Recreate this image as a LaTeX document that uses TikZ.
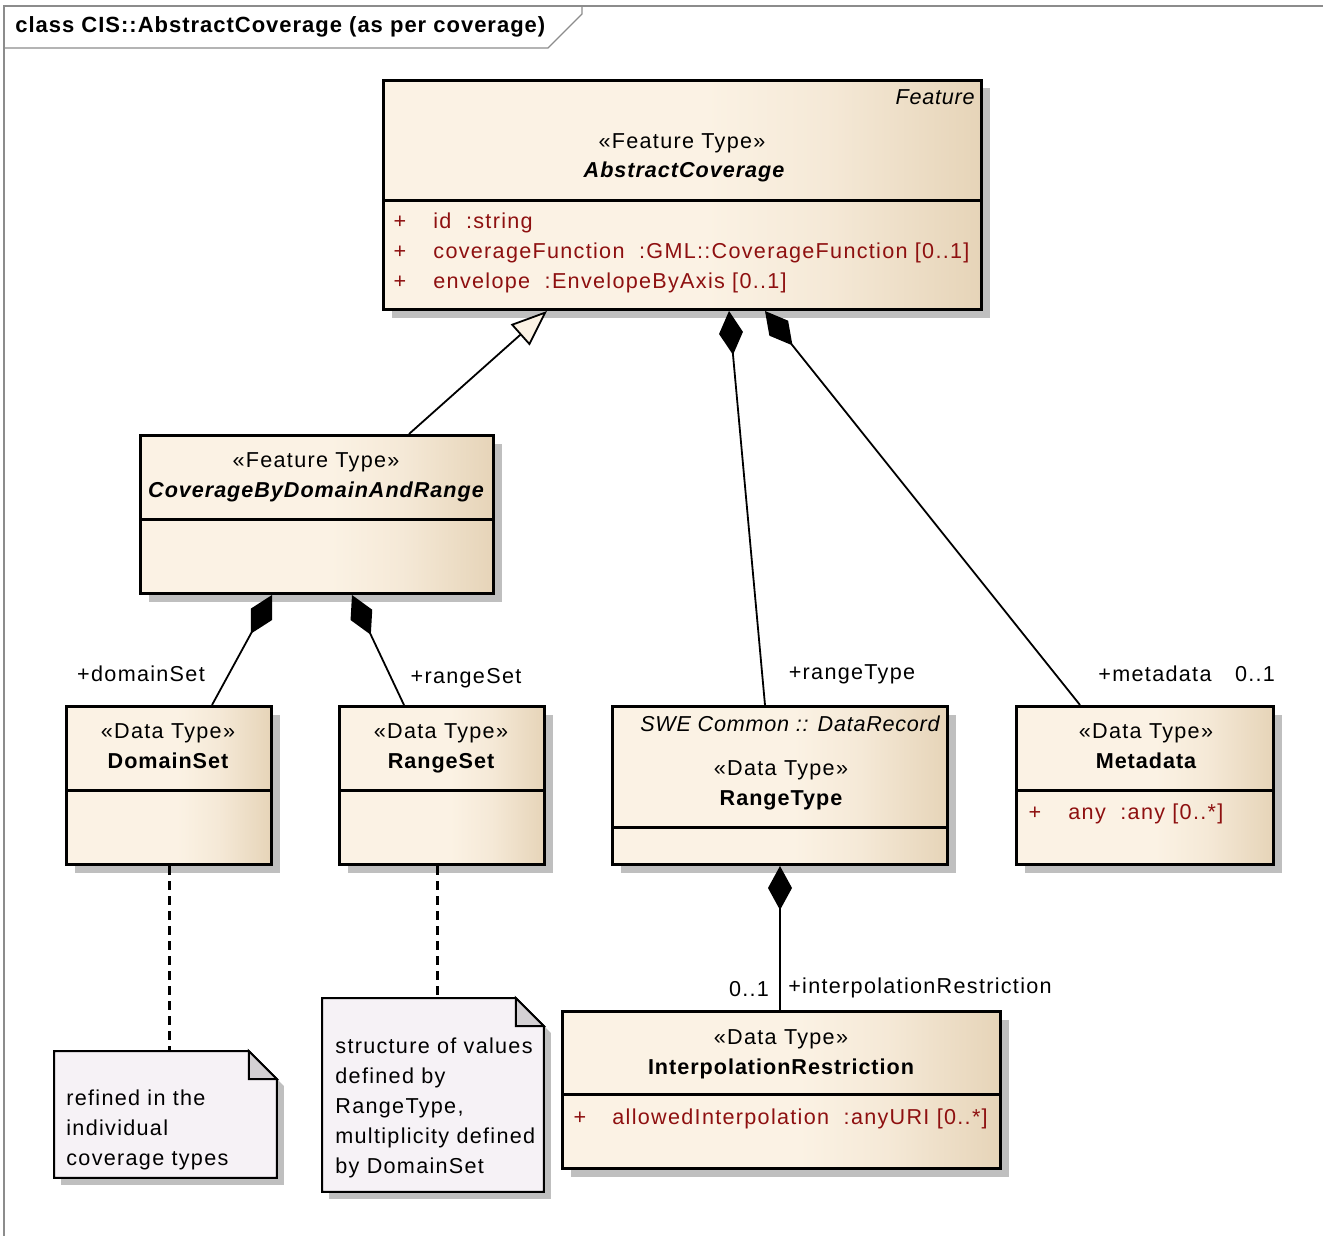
\documentclass[tikz,border=0pt]{standalone}
\usepackage{fontspec}
\setmainfont{Liberation Sans}[LetterSpace=6,ItalicFeatures={LetterSpace=3.5},BoldFeatures={LetterSpace=4.5},BoldItalicFeatures={LetterSpace=4.5}]
\usetikzlibrary{arrows.meta,shadows,calc}
\definecolor{clsL}{HTML}{FBF2E4}
\definecolor{clsM}{HTML}{F5E9D7}
\definecolor{clsR}{HTML}{E6D4B8}
\definecolor{noteFill}{HTML}{F6F2F6}
\definecolor{foldFill}{HTML}{D3D0D3}
\definecolor{attrRed}{HTML}{8E1010}
\definecolor{shadowGray}{HTML}{BFBFBF}
\definecolor{frameGray}{HTML}{8C8C8C}
\pgfdeclarehorizontalshading{clsshade}{100bp}{color(0bp)=(clsL); color(25bp)=(clsL); color(52bp)=(clsL); color(62bp)=(clsM); color(75bp)=(clsR); color(100bp)=(clsR)}
\newcommand{\umlsize}{\fontsize{10.8pt}{15pt}\selectfont}
\tikzset{
  every node/.style={font=\umlsize,inner sep=0pt},
  clsbox/.style={draw=black,line width=1.5pt,shading=clsshade,anchor=north west,
    drop shadow={shadow xshift=4pt,shadow yshift=-4pt,fill=shadowGray,opacity=1}},
  sepline/.style={line width=1.5pt},
  noteline/.style={draw=black,line width=1pt,fill=noteFill,
    drop shadow={shadow xshift=3.5pt,shadow yshift=-3.5pt,fill=shadowGray,opacity=1}},
  foldline/.style={draw=black,line width=1pt,fill=foldFill},
  notebox/.style={anchor=north west},
  txt/.style={text height=0.75em,text depth=0.2em},
  cname/.style={txt,font=\umlsize\bfseries},
  aname/.style={txt,font=\umlsize\bfseries\itshape},
  tagtxt/.style={txt,font=\umlsize\itshape},
  attrtxt/.style={txt,text=attrRed,anchor=west},
  plus/.style={txt,text=attrRed},
  notetxt/.style={align=left,anchor=west},
  comp/.style={{Diamond[length=22pt,width=12pt]}-,line width=0.9pt},
  gen/.style={-{Triangle[open,fill=clsL,length=18pt,width=14pt]},line width=0.9pt},
  noteanchor/.style={line width=1.5pt,dash pattern=on 4.5pt off 3pt},
  frame/.style={draw=frameGray,line width=0.6pt},
}
\begin{document}
\begin{tikzpicture}[x=0.5pt,y=-0.5pt]
\useasboundingbox (0,0) rectangle (1323,1236);

% diagram frame
\draw[frame] (4,1236) -- (4,6) -- (1323,6);
\draw[frame] (4,48) -- (548,48) -- (582,14) -- (582,6);
\node[anchor=west,font=\fontsize{11pt}{15pt}\selectfont\bfseries] (title) at (15,27) {class CIS::AbstractCoverage (as per coverage)};

% classes
\node[clsbox,minimum width=299pt,minimum height=114.5pt] (absCov) at (382,79) {};
\draw[sepline] (382,200) -- (980,200);
\node[tagtxt,anchor=east] (absCovTag) at (975,99) {Feature};
\node[txt] (absCovSt) at (682,143) {«Feature Type»};
\node[aname] (absCovName) at (684,172) {AbstractCoverage};
\node[plus] (absCovP1) at (400,223) {+};
\node[plus] (absCovP2) at (400,253) {+};
\node[plus] (absCovP3) at (400,283) {+};
\node[attrtxt] (absCovA1) at (433,223) {id\ \ :string};
\node[attrtxt] (absCovA2) at (433,253) {coverageFunction\ \ :GML::CoverageFunction [0..1]};
\node[attrtxt] (absCovA3) at (433,283) {envelope\ \ :EnvelopeByAxis [0..1]};

\node[clsbox,minimum width=176.5pt,minimum height=79pt] (cbdr) at (139,434) {};
\draw[sepline] (139,519) -- (492,519);
\node[txt] (cbdrSt) at (316,462) {«Feature Type»};
\node[aname] (cbdrName) at (316,492) {CoverageByDomainAndRange};

\node[clsbox,minimum width=102.5pt,minimum height=79pt] (domSet) at (65,705) {};
\draw[sepline] (65,790) -- (270,790);
\node[txt] (domSetSt) at (168,733) {«Data Type»};
\node[cname] (domSetName) at (168,763) {DomainSet};

\node[clsbox,minimum width=102.5pt,minimum height=79pt] (rngSet) at (338,705) {};
\draw[sepline] (338,790) -- (543,790);
\node[txt] (rngSetSt) at (441,733) {«Data Type»};
\node[cname] (rngSetName) at (441,763) {RangeSet};

\node[clsbox,minimum width=167.5pt,minimum height=79pt] (rngType) at (611,705) {};
\draw[sepline] (611,827) -- (946,827);
\node[tagtxt] (rngTypeTag) at (790,726) {SWE Common :: DataRecord};
\node[txt] (rngTypeSt) at (781,770) {«Data Type»};
\node[cname] (rngTypeName) at (781,800) {RangeType};

\node[clsbox,minimum width=128.5pt,minimum height=79pt] (meta) at (1015,705) {};
\draw[sepline] (1015,790) -- (1272,790);
\node[txt] (metaSt) at (1146,733) {«Data Type»};
\node[cname] (metaName) at (1146,763) {Metadata};
\node[plus] (metaP1) at (1035,814) {+};
\node[attrtxt] (metaA1) at (1068,814) {any\ \ :any [0..*]};

\node[clsbox,minimum width=219pt,minimum height=78.5pt] (interp) at (561,1010) {};
\draw[sepline] (561,1094) -- (999,1094);
\node[txt] (interpSt) at (781,1039) {«Data Type»};
\node[cname] (interpName) at (781,1069) {InterpolationRestriction};
\node[plus] (interpP1) at (580,1119) {+};
\node[attrtxt] (interpA1) at (612,1119) {allowedInterpolation\ \ :anyURI [0..*]};

% notes
\node[notebox,minimum width=111pt,minimum height=63pt] (note1) at (54,1051) {};
\draw[noteline] (note1.north west) -- ([xshift=-14pt]note1.north east) -- ([yshift=-14pt]note1.north east) -- (note1.south east) -- (note1.south west) -- cycle;
\draw[foldline] ([xshift=-14pt]note1.north east) -- ([xshift=-14pt,yshift=-14pt]note1.north east) -- ([yshift=-14pt]note1.north east) -- cycle;
\node[notetxt] (note1Txt) at (66,1130) {refined in the\\individual\\coverage types};

\node[notebox,minimum width=110.5pt,minimum height=96.5pt] (note2) at (322,998) {};
\draw[noteline] (note2.north west) -- ([xshift=-14pt]note2.north east) -- ([yshift=-14pt]note2.north east) -- (note2.south east) -- (note2.south west) -- cycle;
\draw[foldline] ([xshift=-14pt]note2.north east) -- ([xshift=-14pt,yshift=-14pt]note2.north east) -- ([yshift=-14pt]note2.north east) -- cycle;
\node[notetxt] (note2Txt) at (335,1108) {structure of values\\defined by\\RangeType,\\multiplicity defined\\by DomainSet};

% associations
\draw[gen] ($(cbdr.north west)+(270,0)$) -- ($(absCov.south west)+(165,0)$);
\draw[comp] ($(absCov.south west)+(347,0)$) -- ($(rngType.north west)+(154,0)$);
\draw[comp] ($(absCov.south west)+(383,0)$) -- ($(meta.north west)+(65,0)$);
\draw[comp] ($(cbdr.south west)+(133,0)$) -- ($(domSet.north west)+(147,0)$);
\draw[comp] ($(cbdr.south west)+(213,0)$) -- ($(rngSet.north west)+(66,0)$);
\draw[comp] (rngType.south) -- (rngType.south |- interp.north);
\coordinate (rngSetFoot) at ($(rngSet.south west)+(99,0)$);
\draw[noteanchor] (domSet.south) -- (domSet.south |- note1.north);
\draw[noteanchor] (rngSetFoot) -- (rngSetFoot |- note2.north);

% role names and multiplicities
\node[txt] (lblDom) at (141,676) {+domainSet};
\node[txt] (lblRngSet) at (466,678) {+rangeSet};
\node[txt] (lblRngType) at (852,674) {+rangeType};
\node[txt] (lblMeta) at (1155,676) {+metadata};
\node[txt] (lblMetaM) at (1255,676) {0..1};
\node[txt] (lblIntM) at (749,991) {0..1};
\node[txt] (lblInt) at (920,988) {+interpolationRestriction};

\end{tikzpicture}
\end{document}
